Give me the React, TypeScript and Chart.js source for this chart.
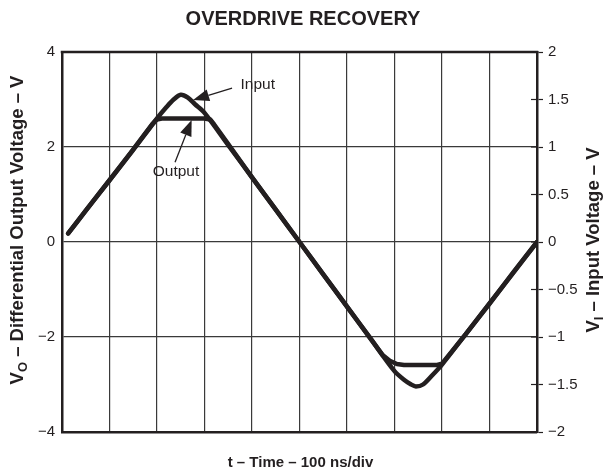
import React, { useEffect, useRef } from "react";
import { Chart, registerables } from "chart.js";

Chart.register(...registerables);

// ---- Data (time in divisions of 100 ns) ----
const inputTime = [0.13, 0.5, 1.0, 1.5, 2.0, 2.2, 2.35, 2.5, 2.65, 2.8, 3.0, 3.5, 4.0, 4.5, 5.0, 5.5, 6.0, 6.5, 7.0, 7.2, 7.35, 7.45, 7.6, 7.8, 8.0, 8.5, 9.0, 9.5, 10.0];
// V_I – input voltage (right axis, V)
const inputVolts = [0.09, 0.33, 0.65, 0.97, 1.3, 1.42, 1.5, 1.55, 1.52, 1.45, 1.36, 1.02, 0.68, 0.34, 0, -0.34, -0.68, -1.02, -1.36, -1.45, -1.5, -1.52, -1.5, -1.4, -1.29, -0.97, -0.65, -0.32, 0];

const outputTime = [0.13, 0.5, 1.0, 1.5, 1.9, 2.0, 2.1, 2.5, 3.0, 3.12, 3.2, 3.5, 4.0, 4.5, 5.0, 5.5, 6.0, 6.5, 6.75, 6.9, 7.05, 7.2, 7.5, 7.9, 8.0, 8.5, 9.0, 9.5, 10.0];
// V_O – differential output voltage (left axis, V)
const outputVolts = [0.18, 0.66, 1.3, 1.95, 2.48, 2.58, 2.6, 2.6, 2.6, 2.58, 2.48, 2.06, 1.36, 0.68, 0, -0.68, -1.36, -2.04, -2.38, -2.5, -2.57, -2.59, -2.59, -2.59, -2.56, -1.94, -1.29, -0.65, 0];

const leftTicks = [4, 2, 0, -2, -4];
const rightTicks = [2, 1.5, 1, 0.5, 0, -0.5, -1, -1.5, -2];

const chartTitle = "OVERDRIVE RECOVERY";
const xTitle = "t \u2013 Time \u2013 100 ns/div";

const FONT = "'Liberation Sans', Arial, Helvetica, sans-serif";
const INK = "#231f20";

function fmt(v: number) {
  return String(v).replace("-", "\u2212");
}

// annotation placement (data units: x in div, y in V_O units)
const annotations = [
  { text: "Input", tx: 4.12, ty: 3.32, ax: 3.58, ay: 3.24, px: 2.76, py: 2.99 },
  { text: "Output", tx: 2.4, ty: 1.48, ax: 2.38, ay: 1.68, px: 2.73, py: 2.57 },
];

function drawRotatedRich(ctx: CanvasRenderingContext2D, cx: number, cy: number, parts: { t: string; sub?: boolean }[], size: number) {
  ctx.save();
  ctx.translate(cx, cy);
  ctx.rotate(-Math.PI / 2);
  const main = `bold ${size}px ${FONT}`;
  const sub = `bold ${Math.round(size * 0.72)}px ${FONT}`;
  let total = 0;
  const widths = parts.map((p) => {
    ctx.font = p.sub ? sub : main;
    const w = ctx.measureText(p.t).width;
    total += w;
    return w;
  });
  let x = -total / 2;
  ctx.fillStyle = INK;
  ctx.textBaseline = "middle";
  ctx.textAlign = "left";
  parts.forEach((p, i) => {
    ctx.font = p.sub ? sub : main;
    ctx.fillText(p.t, x, p.sub ? size * 0.3 : 0);
    x += widths[i];
  });
  ctx.restore();
}

const decorPlugin = {
  id: "decor",
  afterDraw(chart: any) {
    const { ctx, chartArea: a, scales } = chart;
    const xs = scales.x;
    const yl = scales.y;
    const yr = scales.y1;
    ctx.save();
    // top border
    ctx.strokeStyle = INK;
    ctx.lineWidth = 2.5;
    ctx.beginPath();
    ctx.moveTo(a.left - 1.25, a.top);
    ctx.lineTo(a.right + 1.25, a.top);
    ctx.stroke();
    // inward ticks on right axis
    ctx.lineWidth = 1.2;
    rightTicks.forEach((v) => {
      const y = yr.getPixelForValue(v);
      ctx.beginPath();
      ctx.moveTo(a.right - 6, y);
      ctx.lineTo(a.right, y);
      ctx.stroke();
    });
    // title
    ctx.fillStyle = INK;
    ctx.textAlign = "center";
    ctx.textBaseline = "middle";
    ctx.font = `bold 20px ${FONT}`;
    ctx.fillText(chartTitle, 303, 19);
    // x title
    ctx.font = `bold 15px ${FONT}`;
    ctx.fillText(xTitle, (a.left + a.right) / 2 + 1, 463);
    // y titles
    drawRotatedRich(ctx, 18, 230, [{ t: "V" }, { t: "O", sub: true }, { t: " \u2013 Differential Output Voltage \u2013 V" }], 18.5);
    drawRotatedRich(ctx, 594, 240, [{ t: "V" }, { t: "I", sub: true }, { t: " \u2013 Input Voltage \u2013 V" }], 18.5);
    // annotations
    annotations.forEach((an) => {
      const tx = xs.getPixelForValue(an.tx);
      const ty = yl.getPixelForValue(an.ty);
      ctx.font = `15.5px ${FONT}`;
      ctx.fillStyle = INK;
      ctx.textAlign = "center";
      ctx.textBaseline = "middle";
      ctx.fillText(an.text, tx, ty);
      const x0 = xs.getPixelForValue(an.ax);
      const y0 = yl.getPixelForValue(an.ay);
      const x1 = xs.getPixelForValue(an.px);
      const y1 = yl.getPixelForValue(an.py);
      const ang = Math.atan2(y1 - y0, x1 - x0);
      const L = 16;
      const W = 6;
      const bx = x1 - L * Math.cos(ang);
      const by = y1 - L * Math.sin(ang);
      ctx.strokeStyle = INK;
      ctx.lineWidth = 1.3;
      ctx.beginPath();
      ctx.moveTo(x0, y0);
      ctx.lineTo(bx, by);
      ctx.stroke();
      ctx.beginPath();
      ctx.moveTo(x1, y1);
      ctx.lineTo(bx + W * Math.sin(ang), by - W * Math.cos(ang));
      ctx.lineTo(bx - W * Math.sin(ang), by + W * Math.cos(ang));
      ctx.closePath();
      ctx.fill();
    });
    ctx.restore();
  },
};

export default function App() {
  const ref = useRef<HTMLCanvasElement>(null);
  useEffect(() => {
    if (!ref.current) return;
    const chart = new Chart(ref.current, {
      type: "scatter",
      data: {
        datasets: [
          {
            label: "Output",
            data: outputTime.map((t, i) => ({ x: t, y: outputVolts[i] })),
            yAxisID: "y",
            showLine: true,
            borderColor: INK,
            borderWidth: 4.5,
            pointRadius: 0,
            tension: 0,
            borderJoinStyle: "round",
            borderCapStyle: "round",
          },
          {
            label: "Input",
            data: inputTime.map((t, i) => ({ x: t, y: inputVolts[i] })),
            yAxisID: "y1",
            showLine: true,
            borderColor: INK,
            borderWidth: 4.5,
            pointRadius: 0,
            tension: 0.3,
            borderJoinStyle: "round",
            borderCapStyle: "round",
          },
        ],
      },
      options: {
        animation: false,
        responsive: true,
        maintainAspectRatio: false,
        layout: { padding: { top: 52, bottom: 0, left: 0, right: 0 } },
        plugins: { legend: { display: false }, title: { display: false }, tooltip: { enabled: false } },
        scales: {
          x: {
            type: "linear",
            min: 0,
            max: 10,
            ticks: { stepSize: 1, display: false },
            grid: { color: "#3a3a3a", lineWidth: 1.2, drawTicks: false },
            border: { display: true, color: INK, width: 2.5 },
            afterFit: (s: any) => { s.height = 44; },
          },
          y: {
            type: "linear",
            position: "left",
            min: -4,
            max: 4,
            afterBuildTicks: (s: any) => { s.ticks = leftTicks.map((v) => ({ value: v })); },
            ticks: { callback: (v: any) => fmt(v), color: INK, font: { family: FONT, size: 15 }, padding: 7 },
            grid: { color: "#3a3a3a", lineWidth: 1.2, drawTicks: false },
            border: { display: true, color: INK, width: 2.5 },
            afterFit: (s: any) => { s.width = 62; },
          },
          y1: {
            type: "linear",
            position: "right",
            min: -2,
            max: 2,
            afterBuildTicks: (s: any) => { s.ticks = rightTicks.map((v) => ({ value: v })); },
            ticks: { callback: (v: any) => fmt(v), color: INK, font: { family: FONT, size: 15 }, padding: 5 },
            grid: { drawOnChartArea: false, drawTicks: true, tickLength: 6, tickColor: INK, tickWidth: 1.2 },
            border: { display: true, color: INK, width: 2.5 },
            afterFit: (s: any) => { s.width = 68; },
          },
        },
      },
      plugins: [decorPlugin],
    });
    return () => chart.destroy();
  }, []);
  return (
    <div style={{ position: "absolute", left: 0, top: 0, width: 605, height: 476, background: "#fff" }}>
      <canvas ref={ref} />
    </div>
  );
}
